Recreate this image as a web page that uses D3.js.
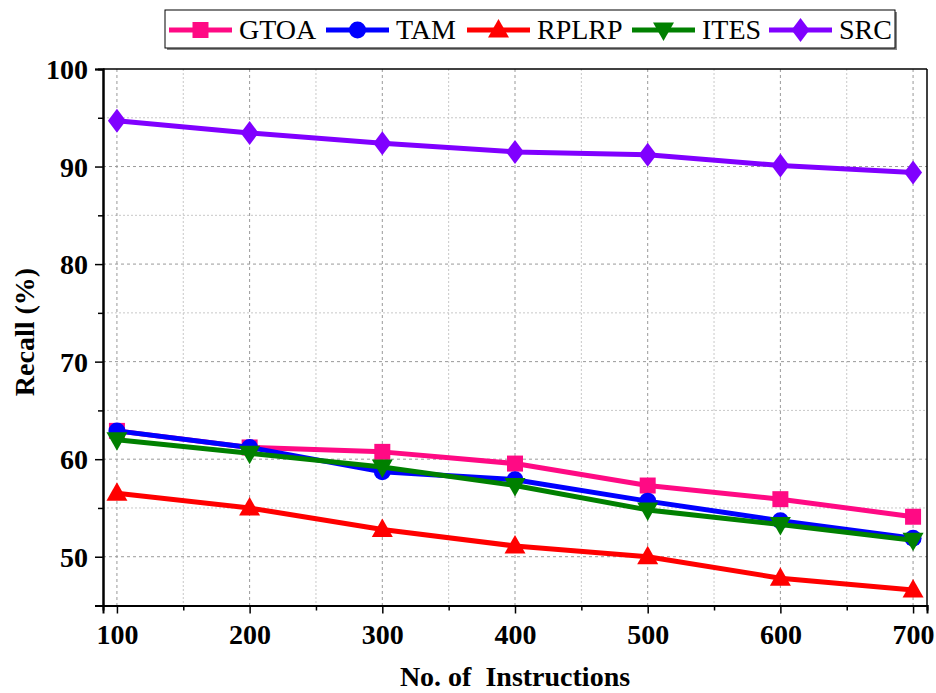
<!DOCTYPE html>
<html><head><meta charset="utf-8">
<script src="https://cdn.jsdelivr.net/npm/d3@7"></script>
<style>
html,body{margin:0;padding:0;background:#fff;}
svg{display:block;}
</style></head>
<body><svg id="c" width="936" height="693"></svg>
<script>
const instructions = [100, 200, 300, 400, 500, 600, 700];
const seriesNames = ["GTOA", "TAM", "RPLRP", "ITES", "SRC"];
const gtoa  = [62.9, 61.2, 60.75, 59.55, 57.3, 55.9, 54.1];
const tam   = [62.9, 61.2, 58.7, 57.9, 55.7, 53.7, 51.9];
const rplrp = [56.5, 55.0, 52.8, 51.1, 50.0, 47.8, 46.6];
const ites  = [62.0, 60.6, 59.2, 57.3, 54.8, 53.3, 51.7];
const src   = [94.7, 93.45, 92.4, 91.5, 91.2, 90.1, 89.4];
const xTicks = [100, 200, 300, 400, 500, 600, 700];
const yTicks = [50, 60, 70, 80, 90, 100];
const colors = ["#FF0A84", "#0000FF", "#FF0000", "#008000", "#8000FF"];
const shapes = ["square", "circle", "triangle", "triangleDown", "diamond"];
const values = [gtoa, tam, rplrp, ites, src];

const FONT = "Liberation Serif";
const svg = d3.select("#c");
const L = 103, R = 927, T = 69, B = 605.5;
const x = d3.scaleLinear().domain([89.5, 710.5]).range([L, R]);
const y = d3.scaleLinear().domain([45, 100]).range([B, T]);

function shapePath(s) {
  switch (s) {
    case "square": return "M-8,-8H8V8H-8Z";
    case "circle": return d3.symbol(d3.symbolCircle, Math.PI * 8.5 * 8.5)();
    case "triangle": return "M0,-11L10.5,7.5L-10.5,7.5Z";
    case "triangleDown": return "M0,11L10.5,-7.5L-10.5,-7.5Z";
    case "diamond": return "M0,-12L9,0L0,12L-9,0Z";
  }
}

// grid
const g = svg.append("g");
const minorX = d3.range(150, 700, 100);
const minorY = d3.range(55, 100, 10);
g.selectAll(".mx").data(minorX).join("line")
  .attr("x1", d => x(d)).attr("x2", d => x(d)).attr("y1", T).attr("y2", B)
  .attr("stroke", "#c8c8c8").attr("stroke-width", 1).attr("stroke-dasharray", "2,2");
g.selectAll(".my").data(minorY).join("line")
  .attr("y1", d => y(d)).attr("y2", d => y(d)).attr("x1", L).attr("x2", R)
  .attr("stroke", "#c8c8c8").attr("stroke-width", 1).attr("stroke-dasharray", "2,2");
g.selectAll(".Mx").data(xTicks).join("line")
  .attr("x1", d => x(d)).attr("x2", d => x(d)).attr("y1", T).attr("y2", B)
  .attr("stroke", "#999").attr("stroke-width", 1).attr("stroke-dasharray", "3,3");
g.selectAll(".My").data(yTicks.filter(d => d < 100)).join("line")
  .attr("y1", d => y(d)).attr("y2", d => y(d)).attr("x1", L).attr("x2", R)
  .attr("stroke", "#999").attr("stroke-width", 1).attr("stroke-dasharray", "3,3");

// frame
svg.append("line").attr("x1", L).attr("x2", R).attr("y1", T).attr("y2", T).attr("stroke", "#000").attr("stroke-width", 1.5);
svg.append("line").attr("x1", R).attr("x2", R).attr("y1", T).attr("y2", B).attr("stroke", "#000").attr("stroke-width", 1.5);

// axes
const xAxis = svg.append("g").attr("transform", `translate(0,${B})`)
  .call(d3.axisBottom(x).tickValues(xTicks).tickSize(8).tickPadding(11).tickFormat(d3.format("d")));
const xMinor = svg.append("g").attr("transform", `translate(0,${B})`)
  .call(d3.axisBottom(x).tickValues(minorX).tickSize(5).tickFormat(""));
const yAxis = svg.append("g").attr("transform", `translate(${L},0)`)
  .call(d3.axisLeft(y).tickValues(yTicks).tickSize(8).tickPadding(7).tickFormat(d3.format("d")));
const yMinor = svg.append("g").attr("transform", `translate(${L},0)`)
  .call(d3.axisLeft(y).tickValues(minorY).tickSize(5).tickFormat(""));
[xAxis, xMinor, yAxis, yMinor].forEach(a => {
  a.attr("font-family", FONT);
  a.select(".domain").attr("stroke", "#000").attr("stroke-width", 2);
  a.selectAll(".tick line").attr("stroke", "#000").attr("stroke-width", 1.5);
  a.selectAll("text").attr("font-family", FONT)
    .attr("font-weight", "bold").attr("font-size", 28).attr("fill", "#000");
});
yAxis.selectAll("text").attr("dy", "0.34em");

// axis titles
svg.append("text").attr("x", 515).attr("y", 686).attr("text-anchor", "middle")
  .attr("font-family", FONT).attr("font-weight", "bold").attr("font-size", 28)
  .style("white-space", "pre").text("No. of  Instructions");
svg.append("text").attr("transform", "translate(34,332) rotate(-90)").attr("text-anchor", "middle")
  .attr("font-family", FONT).attr("font-weight", "bold").attr("font-size", 28).text("Recall (%)");

// series
const line = d3.line().x((d, i) => x(instructions[i])).y(d => y(d));
values.forEach((vals, k) => {
  const sg = svg.append("g");
  sg.append("path").datum(vals).attr("d", line).attr("fill", "none")
    .attr("stroke", colors[k]).attr("stroke-width", 5).attr("stroke-linejoin", "round");
  sg.selectAll("path.m").data(vals).join("path").attr("class", "m")
    .attr("transform", (d, i) => `translate(${x(instructions[i])},${y(d)})`)
    .attr("d", shapePath(shapes[k])).attr("fill", colors[k]);
});

// legend
const lg = svg.append("g");
lg.append("rect").attr("x", 167).attr("y", 12).attr("width", 730).attr("height", 38).attr("fill", "#888");
lg.append("rect").attr("x", 165).attr("y", 10).attr("width", 730).attr("height", 38)
  .attr("fill", "#fff").attr("stroke", "#000").attr("stroke-width", 1);
const legX = [169, 326, 467, 632, 769];
seriesNames.forEach((n, k) => {
  const x0 = legX[k];
  lg.append("line").attr("x1", x0).attr("x2", x0 + 63).attr("y1", 30).attr("y2", 30)
    .attr("stroke", colors[k]).attr("stroke-width", 5);
  lg.append("path").attr("transform", `translate(${x0 + 31.5},30)`)
    .attr("d", shapePath(shapes[k])).attr("fill", colors[k]);
  lg.append("text").attr("x", x0 + 70).attr("y", 39).attr("font-family", FONT)
    .attr("font-size", 28).text(n);
});
</script></body></html>
